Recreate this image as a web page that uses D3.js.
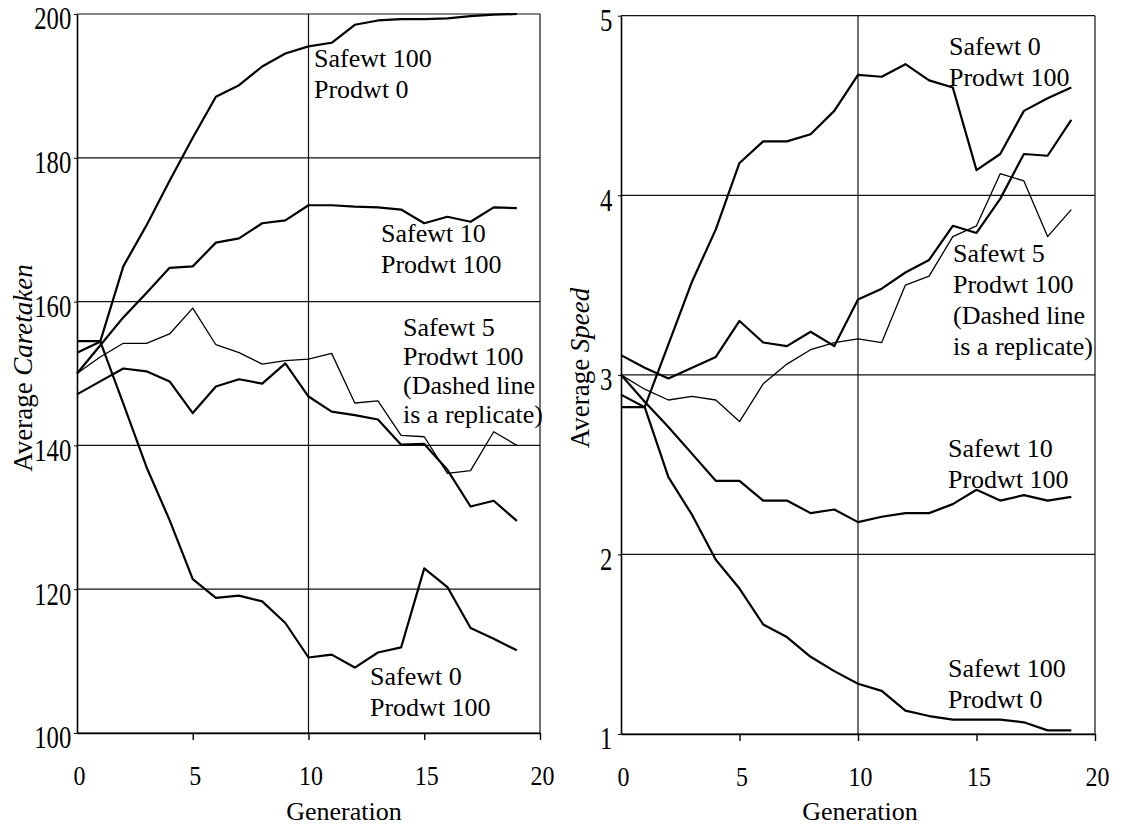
<html>
<head>
<meta charset="utf-8">
<script src="https://d3js.org/d3.v7.min.js"></script>
<style>
body { margin: 0; background: #fff; }
svg { font-family: "Liberation Serif", "Times New Roman", serif; }
.ann { font-size: 26px; fill: #000; }
</style>
</head>
<body>
<svg id="chart" width="1125" height="830"></svg>
<script>
// generations 0..19
const gens = d3.range(0, 20);

// left panel: average caretaken
const careSafe100 = [152.9, 154.4, 164.9, 170.6, 176.8, 182.8, 188.5, 190.1, 192.7, 194.5, 195.5, 196.0, 198.5, 199.1, 199.3, 199.3, 199.4, 199.7, 199.9, 200.0];
const careSafe10  = [150.0, 153.9, 157.8, 161.2, 164.7, 164.9, 168.2, 168.8, 170.9, 171.3, 173.4, 173.4, 173.2, 173.1, 172.8, 170.9, 171.8, 171.1, 173.1, 173.0];
const careSafe5   = [147.1, 148.9, 150.7, 150.3, 148.9, 144.5, 148.2, 149.2, 148.6, 151.4, 146.8, 144.7, 144.2, 143.6, 140.1, 140.2, 136.6, 131.5, 132.3, 129.5];
const careSafe5r  = [150.0, 152.3, 154.2, 154.2, 155.5, 159.1, 154.0, 152.9, 151.3, 151.8, 152.0, 152.8, 145.9, 146.2, 141.4, 141.2, 136.1, 136.5, 141.9, 140.0];
const careSafe0   = [154.5, 154.5, 145.8, 137.0, 129.6, 121.4, 118.8, 119.1, 118.3, 115.3, 110.5, 110.9, 109.1, 111.2, 111.9, 122.9, 120.3, 114.6, 113.1, 111.5];

// right panel: average speed
const speedSafe0   = [2.82, 2.82, 3.17, 3.52, 3.81, 4.18, 4.30, 4.30, 4.34, 4.47, 4.67, 4.66, 4.73, 4.64, 4.60, 4.14, 4.23, 4.47, 4.54, 4.60];
const speedSafe5   = [3.11, 3.04, 2.98, 3.04, 3.10, 3.30, 3.18, 3.16, 3.24, 3.16, 3.42, 3.48, 3.57, 3.64, 3.83, 3.79, 3.98, 4.23, 4.22, 4.42];
const speedSafe5r  = [3.00, 2.92, 2.86, 2.88, 2.86, 2.74, 2.95, 3.06, 3.14, 3.18, 3.20, 3.18, 3.50, 3.55, 3.77, 3.83, 4.12, 4.08, 3.77, 3.92];
const speedSafe10  = [3.00, 2.85, 2.71, 2.56, 2.41, 2.41, 2.30, 2.30, 2.23, 2.25, 2.18, 2.21, 2.23, 2.23, 2.28, 2.36, 2.30, 2.33, 2.30, 2.32];
const speedSafe100 = [2.89, 2.82, 2.43, 2.22, 1.97, 1.81, 1.61, 1.54, 1.43, 1.35, 1.28, 1.24, 1.13, 1.10, 1.08, 1.08, 1.08, 1.065, 1.02, 1.02];

const xTicks = [0, 5, 10, 15, 20];
const careTicks = [100, 120, 140, 160, 180, 200];
const speedTicks = [1, 2, 3, 4, 5];

const svg = d3.select("#chart");

function drawPanel(p) {
  const x = d3.scaleLinear().domain([0, 20]).range([p.left, p.right]);
  const y = d3.scaleLinear().domain(p.yDomain).range([p.bottom, p.top]);
  const g = svg.append("g");

  // horizontal gridlines
  g.selectAll(".hg").data(p.yTicks).enter().append("line")
    .attr("x1", p.left).attr("x2", p.right)
    .attr("y1", d => y(d)).attr("y2", d => y(d))
    .attr("stroke", "#111").attr("stroke-width", 1.2);
  // vertical gridlines at 10 and 20
  g.selectAll(".vg").data([10, 20]).enter().append("line")
    .attr("x1", d => x(d)).attr("x2", d => x(d))
    .attr("y1", p.top).attr("y2", p.bottom)
    .attr("stroke", "#111").attr("stroke-width", 1.2);

  // axes
  const xa = g.append("g").attr("transform", "translate(0," + p.bottom + ")")
    .call(d3.axisBottom(x).tickValues(xTicks).tickFormat(d3.format("d"))
      .tickSize(7).tickPadding(24).tickSizeOuter(0));
  xa.select(".domain").attr("stroke", "#000").attr("stroke-width", 1.6);
  xa.selectAll(".tick line").attr("stroke", "#000").attr("stroke-width", 1.4);
  xa.selectAll("text").attr("font-size", "26px").attr("fill", "#000")
    .attr("font-family", "Liberation Serif, serif")
    .attr("transform", "translate(2,0) scale(0.92,1.05)");
  xa.selectAll(".tick").filter(d => d === 0).select("line").remove();

  const ya = g.append("g").attr("transform", "translate(" + p.left + ",0)")
    .call(d3.axisLeft(y).tickValues(p.yTicks).tickFormat(d3.format("d"))
      .tickSize(3).tickPadding(p.yPad).tickSizeOuter(0));
  ya.select(".domain").attr("stroke", "#000").attr("stroke-width", 1.6);
  ya.selectAll(".tick line").attr("stroke", "#000");
  ya.selectAll("text").attr("font-size", "26px").attr("fill", "#000")
    .attr("font-family", "Liberation Serif, serif")
    .attr("transform", "translate(0,5) scale(0.95,1.18)");

  // series
  const line = d3.line().x((d, i) => x(gens[i])).y(d => y(d));
  p.series.forEach(s => {
    g.append("path").datum(s.values)
      .attr("d", line)
      .attr("fill", "none")
      .attr("stroke", "#000")
      .attr("stroke-width", s.thin ? 1.3 : 2.2)
      .attr("stroke-linejoin", "round");
  });

  // annotations
  p.notes.forEach(n => {
    const t = g.append("text").attr("class", "ann").attr("x", n.x).attr("y", n.y);
    n.lines.forEach((s, i) => {
      t.append("tspan").attr("x", n.x).attr("dy", i === 0 ? 0 : n.gap || 30.5).text(s);
    });
  });

  // axis titles
  g.append("text").attr("x", p.genX).attr("y", 820)
    .attr("text-anchor", "middle").attr("font-size", "26px").text("Generation");
  const yt = g.append("text")
    .attr("transform", "translate(" + p.titleX + "," + p.titleY + ") rotate(-90)")
    .attr("text-anchor", "middle").attr("font-size", "27px");
  yt.append("tspan").text("Average ");
  yt.append("tspan").attr("font-style", "italic").text(p.titleItalic);
}

drawPanel({
  left: 77, right: 540, top: 14, bottom: 733,
  yDomain: [100, 200], yTicks: careTicks, yPad: 3,
  genX: 344, titleX: 32, titleY: 368, titleItalic: "Caretaken",
  series: [
    { values: careSafe100 },
    { values: careSafe10 },
    { values: careSafe5 },
    { values: careSafe5r, thin: true },
    { values: careSafe0 }
  ],
  notes: [
    { x: 314, y: 67, lines: ["Safewt 100", "Prodwt 0"] },
    { x: 381, y: 242, lines: ["Safewt 10", "Prodwt 100"] },
    { x: 403, y: 336, lines: ["Safewt 5", "Prodwt 100", "(Dashed line", "is a replicate)"], gap: 29 },
    { x: 370, y: 685, lines: ["Safewt 0", "Prodwt 100"] }
  ]
});

drawPanel({
  left: 621, right: 1095, top: 15.7, bottom: 734,
  yDomain: [1, 5], yTicks: speedTicks, yPad: 6,
  genX: 860, titleX: 589, titleY: 368, titleItalic: "Speed",
  series: [
    { values: speedSafe0 },
    { values: speedSafe5 },
    { values: speedSafe5r, thin: true },
    { values: speedSafe10 },
    { values: speedSafe100 }
  ],
  notes: [
    { x: 949, y: 55, lines: ["Safewt 0", "Prodwt 100"] },
    { x: 953, y: 262, lines: ["Safewt 5", "Prodwt 100", "(Dashed line", "is a replicate)"], gap: 31 },
    { x: 948, y: 457, lines: ["Safewt 10", "Prodwt 100"] },
    { x: 948, y: 677, lines: ["Safewt 100", "Prodwt 0"] }
  ]
});
</script>
</body>
</html>
